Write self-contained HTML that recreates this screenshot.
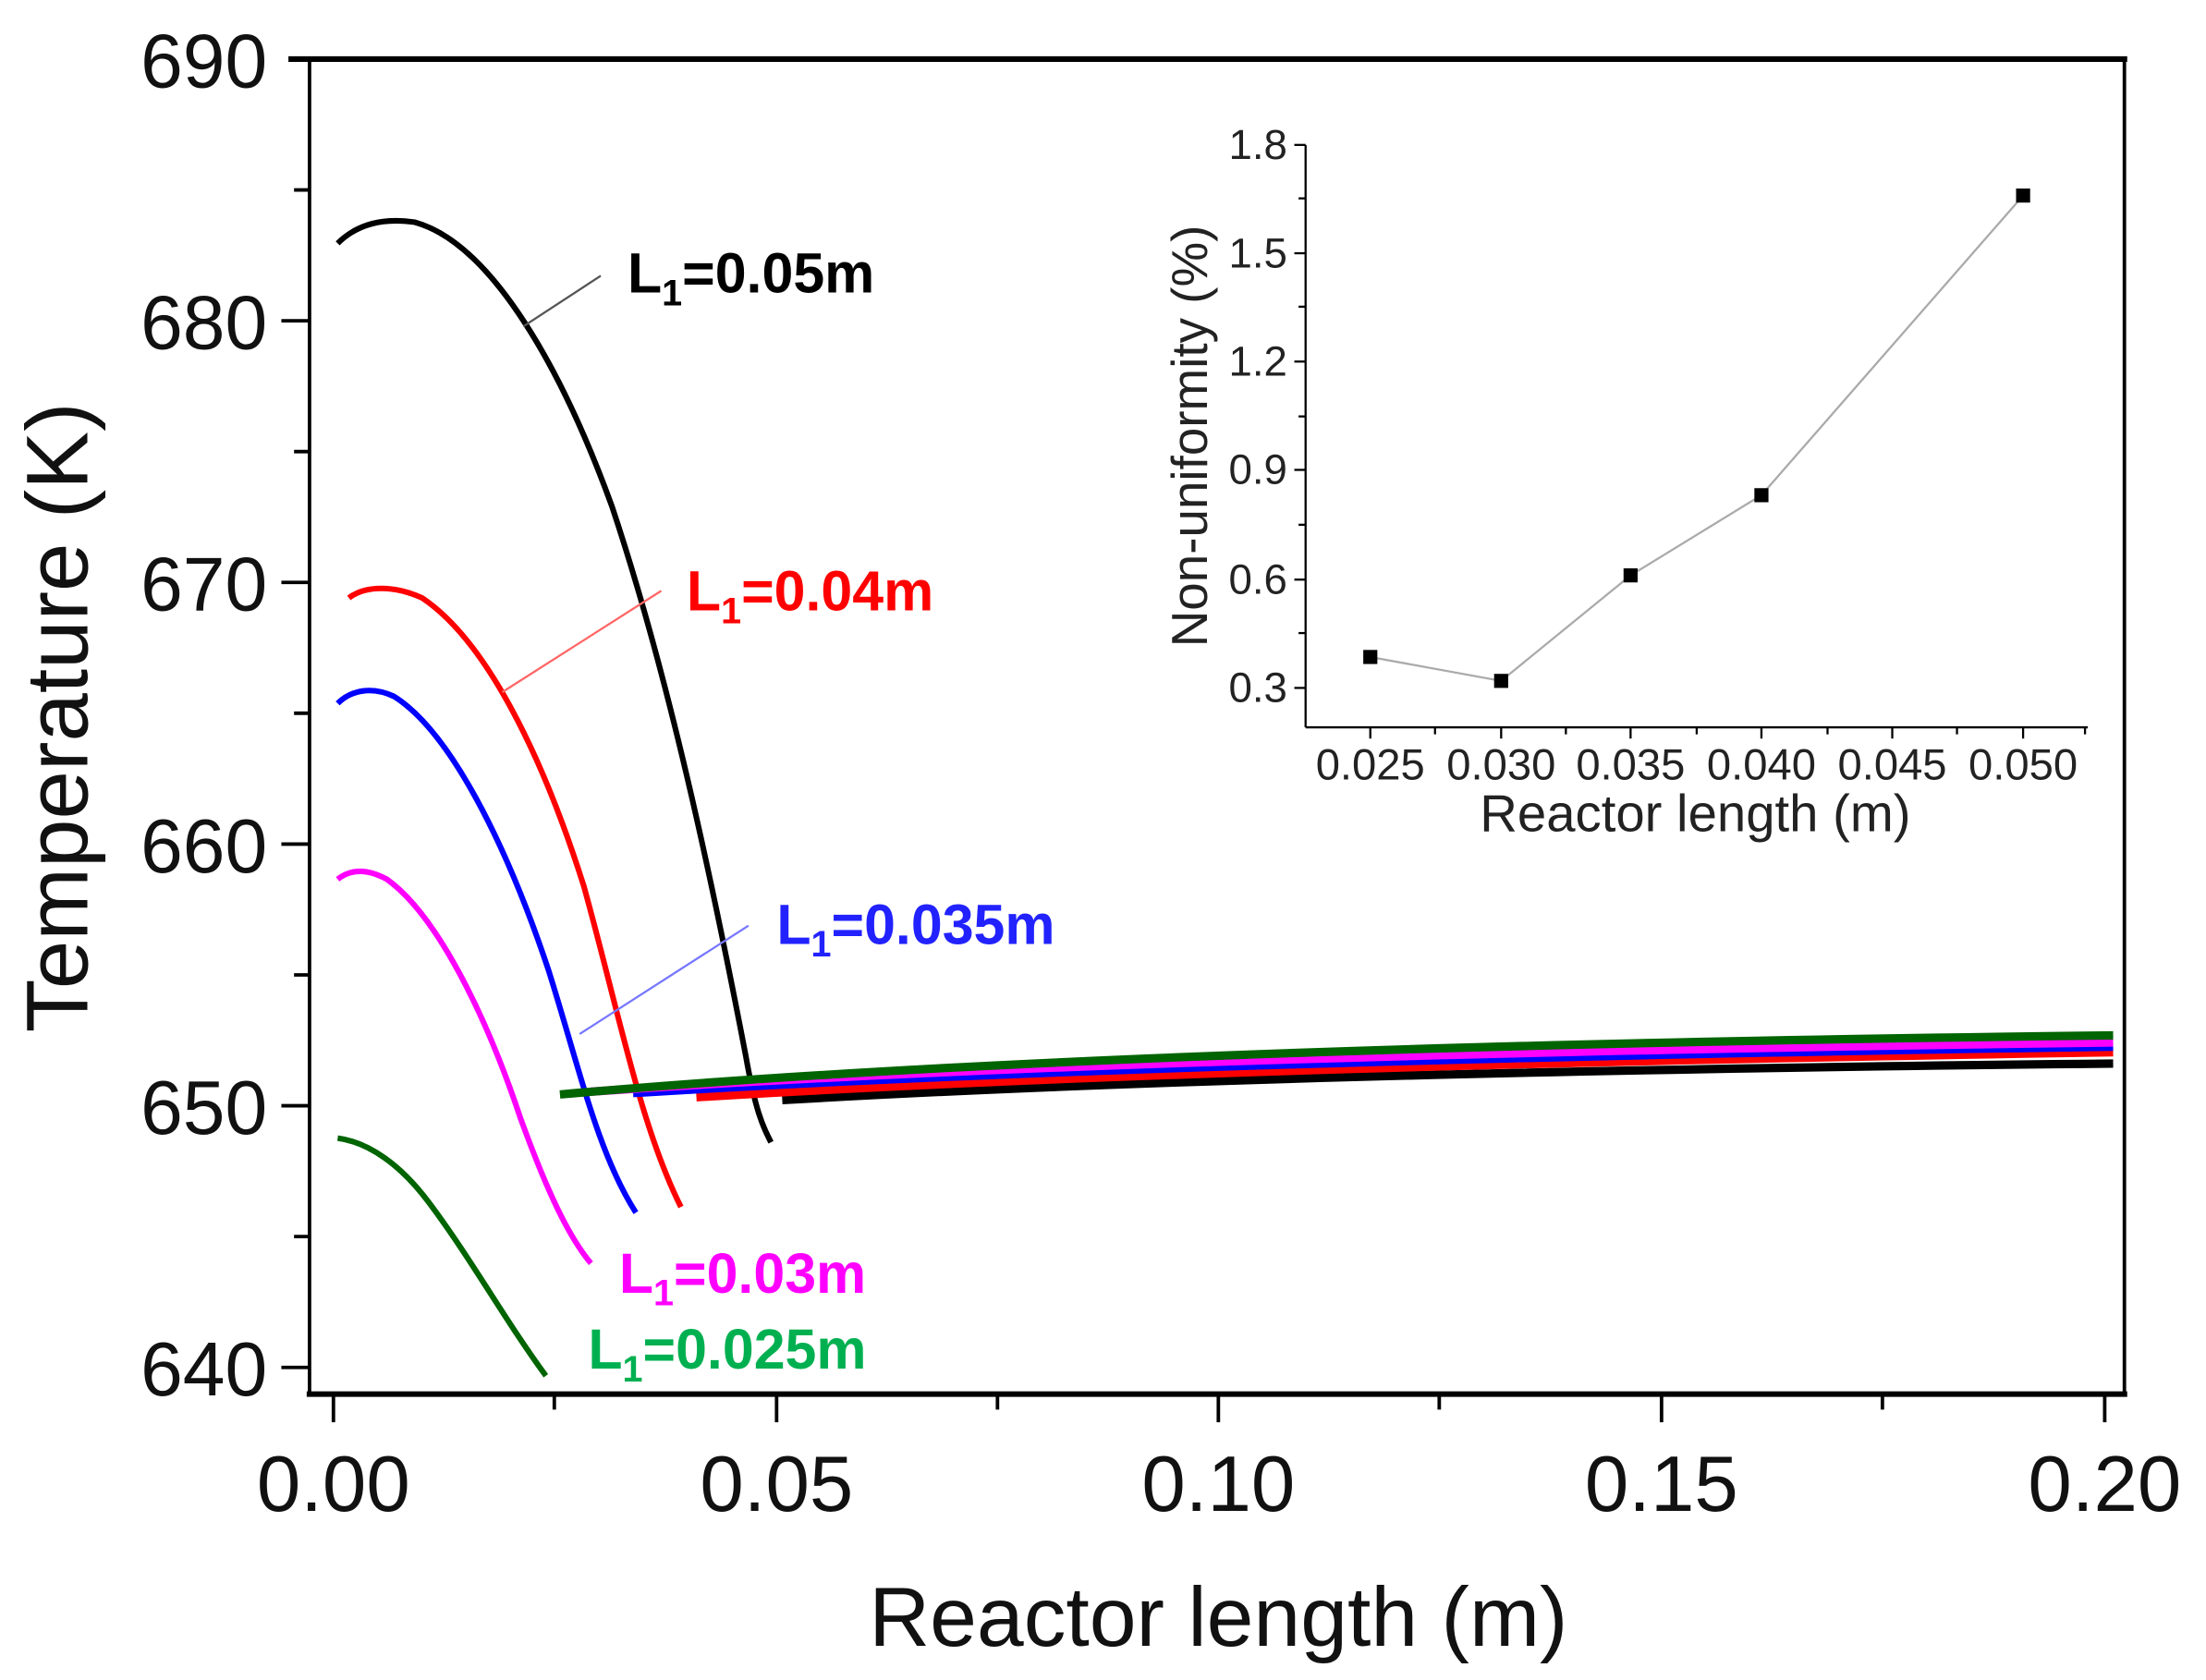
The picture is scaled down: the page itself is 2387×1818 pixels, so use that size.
<!DOCTYPE html>
<html><head><meta charset="utf-8"><style>html,body{margin:0;padding:0;background:#fff}svg{display:block}</style></head>
<body>
<svg width="2387" height="1818" viewBox="0 0 1568 1194.2" xmlns="http://www.w3.org/2000/svg" font-family="Liberation Sans, sans-serif">
<rect width="1568" height="1194.2" fill="#fff"/>
<g stroke="#000" fill="none">
<line x1="205" y1="42" x2="1512" y2="42" stroke-width="4"/>
<line x1="220" y1="42" x2="220" y2="991" stroke-width="2.5"/>
<line x1="218" y1="991" x2="1512" y2="991" stroke-width="4"/>
<line x1="1510" y1="42" x2="1510" y2="991" stroke-width="2.5"/>
<g stroke-width="2.5">
<line x1="200" y1="228" x2="220" y2="228"/><line x1="200" y1="414" x2="220" y2="414"/>
<line x1="200" y1="600" x2="220" y2="600"/><line x1="200" y1="786" x2="220" y2="786"/>
<line x1="200" y1="972" x2="220" y2="972"/>
<line x1="209" y1="135" x2="220" y2="135"/><line x1="209" y1="321" x2="220" y2="321"/>
<line x1="209" y1="507" x2="220" y2="507"/><line x1="209" y1="693" x2="220" y2="693"/>
<line x1="209" y1="879" x2="220" y2="879"/>
<line x1="237" y1="991" x2="237" y2="1011"/><line x1="552" y1="991" x2="552" y2="1011"/>
<line x1="866" y1="991" x2="866" y2="1011"/><line x1="1181" y1="991" x2="1181" y2="1011"/>
<line x1="1496" y1="991" x2="1496" y2="1011"/>
<line x1="394" y1="991" x2="394" y2="1002"/><line x1="709" y1="991" x2="709" y2="1002"/>
<line x1="1023" y1="991" x2="1023" y2="1002"/><line x1="1338" y1="991" x2="1338" y2="1002"/>
</g></g>
<g font-size="54" text-anchor="end" fill="#111">
<text x="190" y="62">690</text><text x="190" y="248">680</text><text x="190" y="434">670</text>
<text x="190" y="620">660</text><text x="190" y="806">650</text><text x="190" y="992">640</text>
</g>
<g font-size="56" text-anchor="middle" fill="#111">
<text x="237" y="1074">0.00</text><text x="552" y="1074">0.05</text><text x="866" y="1074">0.10</text>
<text x="1181" y="1074">0.15</text><text x="1496" y="1074">0.20</text>
</g>
<text x="866" y="1170" font-size="60" text-anchor="middle" fill="#111">Reactor length (m)</text>
<text transform="translate(62,510) rotate(-90)" font-size="62" text-anchor="middle" fill="#111">Temperature (K)</text>

<g fill="none" stroke-width="4" stroke-linecap="butt">
<path d="M240,173 C255,158 275,155 295,158 C345,172 395,250 435,360 C475,480 505,620 530,750 C537,790 542,800 548,812" stroke="#000"/>
<path d="M248,425 C260,416 280,416 300,425 C345,455 385,535 415,630 C440,720 455,800 484,858" stroke="#f00"/>
<path d="M240,500 C250,490 265,488 280,495 C320,520 360,600 390,690 C412,760 425,820 452,862" stroke="#00f"/>
<path d="M240,625 C250,617 262,618 275,625 C310,650 345,720 370,795 C390,850 405,880 420,898" stroke="#f0f"/>
<path d="M240,809 C262,812 285,828 305,855 C335,895 360,940 388,978" stroke="#006400"/>
</g>
<g fill="none" stroke-width="6">
<path d="M556,782 Q900,762 1502,756" stroke="#000"/>
<path d="M495,780 Q850,758 1502,748" stroke="#f00"/>
<path d="M450,777 Q820,754 1502,744" stroke="#00f"/>
<path d="M420,776 Q800,750 1502,741" stroke="#f0f"/>
<path d="M398,778 Q780,744 1502,736" stroke="#006400"/>
</g>
<g stroke-width="1.5">
<line x1="372" y1="232" x2="427" y2="196" stroke="#555"/>
<line x1="357" y1="492" x2="470" y2="420" stroke="#f66"/>
<line x1="412" y1="735" x2="532" y2="658" stroke="#77f"/>
</g>
<g font-size="40" font-weight="bold">
<text x="446" y="208" fill="#000">L<tspan font-size="26" dy="9">1</tspan><tspan dy="-9">=0.05m</tspan></text>
<text x="488" y="434" fill="#f00">L<tspan font-size="26" dy="9">1</tspan><tspan dy="-9">=0.04m</tspan></text>
<text x="552" y="671" fill="#22f">L<tspan font-size="26" dy="9">1</tspan><tspan dy="-9">=0.035m</tspan></text>
<text x="440" y="919" fill="#f0f">L<tspan font-size="26" dy="9">1</tspan><tspan dy="-9">=0.03m</tspan></text>
<text x="418" y="973" fill="#00b050">L<tspan font-size="26" dy="9">1</tspan><tspan dy="-9">=0.025m</tspan></text>
</g>

<g stroke="#000" stroke-width="1.5" fill="none">
<line x1="928" y1="103" x2="928" y2="517"/>
<line x1="928" y1="517" x2="1484" y2="517"/>
<line x1="920" y1="103" x2="928" y2="103"/><line x1="920" y1="180" x2="928" y2="180"/>
<line x1="920" y1="257" x2="928" y2="257"/><line x1="920" y1="334" x2="928" y2="334"/>
<line x1="920" y1="412" x2="928" y2="412"/><line x1="920" y1="489" x2="928" y2="489"/>
<line x1="923" y1="141" x2="928" y2="141"/><line x1="923" y1="218" x2="928" y2="218"/>
<line x1="923" y1="296" x2="928" y2="296"/><line x1="923" y1="373" x2="928" y2="373"/>
<line x1="923" y1="450" x2="928" y2="450"/>
<line x1="974" y1="517" x2="974" y2="525"/><line x1="1067" y1="517" x2="1067" y2="525"/>
<line x1="1159" y1="517" x2="1159" y2="525"/><line x1="1252" y1="517" x2="1252" y2="525"/>
<line x1="1345" y1="517" x2="1345" y2="525"/><line x1="1438" y1="517" x2="1438" y2="525"/>
<line x1="1020" y1="517" x2="1020" y2="522"/><line x1="1113" y1="517" x2="1113" y2="522"/>
<line x1="1206" y1="517" x2="1206" y2="522"/><line x1="1299" y1="517" x2="1299" y2="522"/>
<line x1="1391" y1="517" x2="1391" y2="522"/><line x1="1482" y1="517" x2="1482" y2="522"/>
</g>
<g font-size="30" text-anchor="end" fill="#222">
<text x="915" y="113">1.8</text><text x="915" y="190">1.5</text><text x="915" y="267">1.2</text>
<text x="915" y="344">0.9</text><text x="915" y="422">0.6</text><text x="915" y="499">0.3</text>
</g>
<g font-size="31" text-anchor="middle" fill="#222">
<text x="974" y="554">0.025</text><text x="1067" y="554">0.030</text><text x="1159" y="554">0.035</text>
<text x="1252" y="554">0.040</text><text x="1345" y="554">0.045</text><text x="1438" y="554">0.050</text>
</g>
<text x="1205" y="591" font-size="37" text-anchor="middle" fill="#222">Reactor length (m)</text>
<text transform="translate(858,310) rotate(-90)" font-size="36" text-anchor="middle" fill="#222">Non-uniformity (%)</text>
<polyline points="974,467 1067,484 1159,409 1252,352 1438,139" fill="none" stroke="#aaa" stroke-width="1.5"/>
<g fill="#000">
<rect x="969" y="462" width="10" height="10"/><rect x="1062" y="479" width="10" height="10"/>
<rect x="1154" y="404" width="10" height="10"/><rect x="1247" y="347" width="10" height="10"/>
<rect x="1433" y="134" width="10" height="10"/>
</g>
</svg>
</body></html>
